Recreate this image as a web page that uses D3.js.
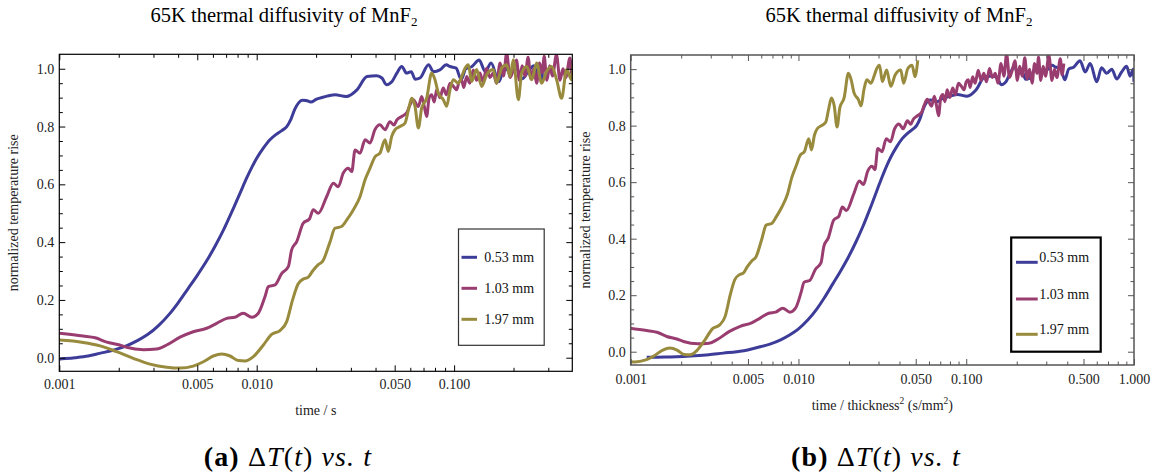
<!DOCTYPE html>
<html>
<head>
<meta charset="utf-8">
<script src="https://cdnjs.cloudflare.com/ajax/libs/d3/7.8.5/d3.min.js"></script>
<style>
  body { margin: 0; background: #fff; }
  svg { font-family: 'Liberation Serif', 'Times New Roman', serif; }
</style>
</head>
<body>
<svg width="1159" height="475"></svg>
<script>
// sample thickness (mm), labels, colours
const thicknessMm = [0.53, 1.03, 1.97];
const seriesLabels = ['0.53 mm', '1.03 mm', '1.97 mm'];
const seriesColors = ['#3d3d99', '#993d71', '#998b3d'];

// [time (s), normalized temperature rise]
const rise053 = [
  [0.00035,-0.02],[0.00045,-0.019],[0.00064,-0.015],[0.00082,-0.011],[0.001,-0.005],
  [0.0012,0.0],[0.0014,0.006],[0.0016,0.015],[0.0019,0.027],[0.0022,0.042],[0.0025,0.06],
  [0.0028,0.08],[0.0032,0.113],[0.0036,0.15],[0.004,0.19],[0.0045,0.24],[0.005,0.285],
  [0.0056,0.337],[0.0062,0.39],[0.0068,0.443],[0.0076,0.515],[0.0083,0.575],[0.0089,0.622],
  [0.0095,0.662],[0.01,0.69],[0.0108,0.725],[0.0117,0.755],[0.0125,0.772],[0.0134,0.786],
  [0.0142,0.8],[0.0149,0.825],[0.0156,0.86],[0.0163,0.882],[0.017,0.891],[0.0178,0.89],
  [0.0188,0.885],[0.0201,0.895],[0.0218,0.902],[0.0249,0.91],[0.0284,0.904],[0.0322,0.927],
  [0.0362,0.973],[0.0405,0.976],[0.0431,0.968],[0.0454,0.945],[0.0485,0.956],[0.0513,0.985],
  [0.0543,1.008],[0.0574,0.985],[0.0607,0.99],[0.0634,0.964],[0.0672,0.968],[0.0742,1.014],
  [0.0786,0.99],[0.0847,0.996],[0.0914,1.014],[0.095,1.008],[0.1024,1.002],[0.1087,0.962],
  [0.1146,1.0],[0.1227,1.007],[0.134,1.03],[0.1437,0.99],[0.154,1.02],[0.1685,0.955],
  [0.18,1.005],[0.193,0.985],[0.207,1.0],[0.2216,0.965],[0.237,0.99],[0.254,1.01],
  [0.266,0.975],[0.278,1.0],[0.2809,0.955]
];

const rise103 = [
  [0.001,0.0845],[0.00132,0.075],[0.00152,0.069],[0.00174,0.054],[0.002,0.045],[0.00219,0.036],
  [0.00267,0.028],[0.00311,0.03],[0.0035,0.044],[0.00409,0.071],[0.00477,0.09],[0.00558,0.102],
  [0.00627,0.119],[0.00705,0.136],[0.00776,0.14],[0.00855,0.154],[0.00944,0.14],[0.01019,0.154],
  [0.01101,0.211],[0.01146,0.246],[0.01238,0.252],[0.0134,0.292],[0.01446,0.315],[0.01503,0.373],
  [0.01595,0.402],[0.01722,0.466],[0.0185,0.48],[0.01935,0.512],[0.0205,0.5],[0.02263,0.558],
  [0.02445,0.604],[0.0259,0.592],[0.02745,0.639],[0.0291,0.656],[0.0303,0.644],[0.0315,0.719],
  [0.0334,0.708],[0.0354,0.754],[0.0375,0.743],[0.0397,0.789],[0.0421,0.806],[0.0447,0.789],
  [0.0473,0.817],[0.0496,0.805],[0.0512,0.822],[0.0543,0.835],[0.0575,0.847],[0.0598,0.875],
  [0.0621,0.893],[0.0659,0.869],[0.0685,0.904],[0.0706,0.87],[0.0726,0.835],[0.0748,0.9],
  [0.077,0.91],[0.0793,0.885],[0.0816,0.927],[0.0848,0.9],[0.0881,0.933],[0.0915,0.91],
  [0.0953,0.95],[0.099,0.94],[0.103,0.927],[0.106,0.955],[0.109,0.962],[0.112,0.935],
  [0.1158,0.973],[0.12,0.95],[0.125,0.996],[0.13,0.96],[0.135,0.985],[0.14,0.955],[0.146,1.002],
  [0.152,0.97],[0.158,0.985],[0.164,0.95],[0.171,1.02],[0.178,0.975],[0.1846,1.054],[0.192,0.97],
  [0.1995,0.996],[0.207,1.03],[0.214,0.96],[0.221,1.01],[0.229,0.975],[0.237,1.04],[0.245,0.965],
  [0.253,1.0],[0.262,0.95],[0.271,1.02],[0.28,0.985],[0.286,1.043],[0.295,0.96],[0.305,1.01],
  [0.315,0.975],[0.33,1.049],[0.344,0.96],[0.356,1.0],[0.368,0.97],[0.386,1.037],[0.395,0.98],
  [0.405,1.02]
];

const rise197 = [
  [0.001,0.061],[0.00132,0.053],[0.00161,0.041],[0.00195,0.021],[0.00237,-0.002],[0.00288,-0.022],
  [0.0035,-0.033],[0.00409,-0.036],[0.00477,-0.029],[0.00537,-0.014],[0.00603,0.006],[0.00665,0.013],
  [0.00733,0.006],[0.00807,-0.01],[0.00873,-0.011],[0.00962,0.004],[0.01081,0.044],[0.0119,0.081],
  [0.01312,0.094],[0.01419,0.125],[0.0152,0.2],[0.0162,0.255],[0.0172,0.272],[0.0182,0.278],
  [0.0192,0.3],[0.0205,0.322],[0.0216,0.334],[0.0235,0.4],[0.0249,0.448],[0.0269,0.454],
  [0.0286,0.477],[0.0309,0.512],[0.0334,0.558],[0.0354,0.616],[0.0375,0.656],[0.0398,0.696],
  [0.0421,0.708],[0.0447,0.754],[0.0464,0.714],[0.0483,0.766],[0.0502,0.789],[0.0532,0.8],
  [0.0564,0.812],[0.0587,0.858],[0.061,0.898],[0.0634,0.87],[0.0659,0.795],[0.0685,0.864],
  [0.0726,0.898],[0.077,0.985],[0.08,0.962],[0.0832,0.916],[0.0882,0.893],[0.0917,0.87],
  [0.0953,0.927],[0.0991,0.962],[0.1051,0.95],[0.1092,0.973],[0.1136,1.002],[0.1181,1.014],
  [0.1227,0.956],[0.1301,0.997],[0.1379,0.939],[0.1462,0.979],[0.158,0.997],[0.1643,0.95],
  [0.1741,1.002],[0.1846,1.014],[0.192,0.973],[0.1996,1.031],[0.2116,0.893],[0.2199,0.985],
  [0.2332,1.008],[0.2472,0.962],[0.2619,1.02],[0.2777,0.95],[0.2944,0.991],[0.312,1.008],
  [0.3307,0.962],[0.3506,0.898],[0.3717,0.997],[0.394,0.962],[0.4017,1.02]
];

// last x shown for each series in panel (b), in s/mm^2
const panelBMaxX = [1.0, 0.41, 0.052];

const xTicksA = [0.001, 0.005, 0.01, 0.05, 0.1];
const xTicksB = [0.001, 0.005, 0.01, 0.05, 0.1, 0.5, 1];
const yTicks = [0, 0.2, 0.4, 0.6, 0.8, 1.0];
const yMinorTicks = [0.05, 0.1, 0.15, 0.25, 0.3, 0.35, 0.45, 0.5, 0.55, 0.65, 0.7, 0.75, 0.85, 0.9, 0.95];
const Y_DOMAIN = [-0.047, 1.05];

const PANELS = [
  {
    left: 59.3, right: 572.3, top: 54.3, bottom: 371.3,
    xDomain: [0.001, 0.397], xTicks: xTicksA, frame: '#000', frameWidth: 1.2,
    titleX: 284, tickPad: 7.5, xLabelY: 415, yLabelX: 18,
    xLabel: [['time / s', 0, 14]],
    legend: { x: 458.5, y: 229, w: 85.7, h: 116.3, lineX: 461.5, lineW: 15.5, textX: 484.3,
              rows: [257.3, 288.3, 319.3], border: 1.2, color: '#333', dy: '0.34em' },
    caption: { x: 288, tag: '(a)' }
  },
  {
    left: 630.7, right: 1134, top: 55, bottom: 365,
    xDomain: [0.001, 1], xTicks: xTicksB, frame: '#555', frameWidth: 1.5,
    titleX: 899, tickPad: 9.4, xLabelY: 410, yLabelX: 590,
    xLabel: [['time / thickness', 0, 14], ['2', -6, 9.5], [' (s/mm', 6, 14], ['2', -6, 9.5], [')', 6, 14]],
    legend: { x: 1011.2, y: 237.5, w: 89.5, h: 114.2, lineX: 1016, lineW: 21.7, textX: 1039.3,
              rows: [262.3, 299, 334.3], border: 2.2, color: '#000', dy: '0' },
    caption: { x: 876, tag: '(b)' }
  }
];

const logMinorTicks = function(domain, majors) {
  const out = [];
  for (let e = -3; e <= 0; e++) {
    for (let m = 1; m < 10; m++) {
      const v = m * Math.pow(10, e);
      const isMajor = majors.some(M => Math.abs(M - v) / v < 1e-6);
      if (!isMajor && v >= domain[0] * 0.999 && v <= domain[1] * 1.001) out.push(v);
    }
  }
  return out;
};

const drawPanel = function(svg, panel, series, idx) {
  const x = d3.scaleLog().domain(panel.xDomain).range([panel.left, panel.right]);
  const y = d3.scaleLinear().domain(Y_DOMAIN).range([panel.bottom, panel.top]);
  const g = svg.append('g').attr('class', 'panel');

  // title
  const title = g.append('text')
    .attr('x', panel.titleX).attr('y', 21.5)
    .attr('text-anchor', 'middle')
    .style('font-size', '20.5px')
    .text('65K thermal diffusivity of MnF');
  title.append('tspan').attr('dy', 4).style('font-size', '13px').text('2');

  // curves
  const clipId = 'clip' + idx;
  g.append('clipPath').attr('id', clipId)
    .append('rect')
    .attr('x', panel.left).attr('y', panel.top)
    .attr('width', panel.right - panel.left).attr('height', panel.bottom - panel.top);

  const line = d3.line()
    .x(d => x(d[0]))
    .y(d => y(d[1]))
    .curve(d3.curveMonotoneX);

  g.append('g').attr('clip-path', `url(#${clipId})`)
    .selectAll('path')
    .data(series)
    .join('path')
    .attr('d', d => line(d))
    .attr('fill', 'none')
    .attr('stroke', (d, i) => seriesColors[i])
    .attr('stroke-width', 3)
    .attr('stroke-linejoin', 'round');

  // frame + inward ticks
  const minorX = logMinorTicks(panel.xDomain, panel.xTicks);
  const tickStyle = sel => {
    sel.select('.domain').remove();
    sel.selectAll('line').attr('stroke', panel.frame).attr('stroke-width', 1);
    sel.selectAll('text').style('font-size', '14px').attr('fill', '#222')
      .style('font-family', "'Liberation Serif', serif");
  };

  g.append('g').attr('transform', `translate(0,${panel.bottom})`)
    .call(d3.axisBottom(x).tickValues(panel.xTicks).tickFormat(d3.format('.3f'))
      .tickSize(-6).tickPadding(panel.tickPad))
    .call(tickStyle);
  g.append('g').attr('transform', `translate(0,${panel.bottom})`)
    .call(d3.axisBottom(x).tickValues(minorX).tickFormat('').tickSize(-3.5))
    .call(tickStyle);
  g.append('g').attr('transform', `translate(0,${panel.top})`)
    .call(d3.axisTop(x).tickValues(panel.xTicks).tickFormat('').tickSize(-6))
    .call(tickStyle);
  g.append('g').attr('transform', `translate(0,${panel.top})`)
    .call(d3.axisTop(x).tickValues(minorX).tickFormat('').tickSize(-3.5))
    .call(tickStyle);

  g.append('g').attr('transform', `translate(${panel.left},0)`)
    .call(d3.axisLeft(y).tickValues(yTicks).tickFormat(d3.format('.1f'))
      .tickSize(-6).tickPadding(5))
    .call(tickStyle);
  g.append('g').attr('transform', `translate(${panel.left},0)`)
    .call(d3.axisLeft(y).tickValues(yMinorTicks).tickFormat('').tickSize(-3.5))
    .call(tickStyle);
  g.append('g').attr('transform', `translate(${panel.right},0)`)
    .call(d3.axisRight(y).tickValues(yTicks).tickFormat('').tickSize(-6))
    .call(tickStyle);
  g.append('g').attr('transform', `translate(${panel.right},0)`)
    .call(d3.axisRight(y).tickValues(yMinorTicks).tickFormat('').tickSize(-3.5))
    .call(tickStyle);

  g.append('rect')
    .attr('x', panel.left).attr('y', panel.top)
    .attr('width', panel.right - panel.left).attr('height', panel.bottom - panel.top)
    .attr('fill', 'none').attr('stroke', panel.frame).attr('stroke-width', panel.frameWidth);

  // axis labels
  const xl = g.append('text')
    .attr('x', (panel.left + panel.right) / 2).attr('y', panel.xLabelY)
    .attr('text-anchor', 'middle').attr('fill', '#222');
  panel.xLabel.forEach(([t, dy, size]) => {
    xl.append('tspan').attr('dy', dy).style('font-size', size + 'px').text(t);
  });

  g.append('text')
    .attr('transform', `translate(${panel.yLabelX},${(panel.top + panel.bottom) / 2}) rotate(-90)`)
    .attr('text-anchor', 'middle').attr('fill', '#222')
    .style('font-size', '14px')
    .text('normalized temperature rise');

  // legend
  const lg = panel.legend;
  g.append('rect')
    .attr('x', lg.x).attr('y', lg.y).attr('width', lg.w).attr('height', lg.h)
    .attr('fill', '#fff').attr('stroke', lg.color).attr('stroke-width', lg.border);
  seriesLabels.forEach((label, i) => {
    g.append('line')
      .attr('x1', lg.lineX).attr('x2', lg.lineX + lg.lineW)
      .attr('y1', lg.rows[i]).attr('y2', lg.rows[i])
      .attr('stroke', seriesColors[i]).attr('stroke-width', 3);
    g.append('text')
      .attr('x', lg.textX).attr('y', lg.rows[i]).attr('dy', lg.dy)
      .style('font-size', '14px').attr('fill', '#111')
      .text(label);
  });

  // caption
  const cap = g.append('text')
    .attr('x', panel.caption.x).attr('y', 466)
    .attr('text-anchor', 'middle')
    .style('font-size', '28px')
    .style('letter-spacing', '1.1px');
  cap.append('tspan').style('font-weight', 'bold').text(panel.caption.tag + ' ');
  cap.append('tspan').text('\u0394');
  cap.append('tspan').style('font-style', 'italic').text('T');
  cap.append('tspan').text('(');
  cap.append('tspan').style('font-style', 'italic').text('t');
  cap.append('tspan').text(') ');
  cap.append('tspan').style('font-style', 'italic').text('vs. t');
};

const main = () => {
  const svg = d3.select('svg');
  const raw = [rise053, rise103, rise197];

  drawPanel(svg, PANELS[0], raw, 0);

  const scaled = raw.map((s, i) => {
    const d2 = thicknessMm[i] * thicknessMm[i];
    return s.map(d => [d[0] / d2, d[1]]).filter(d => d[0] <= panelBMaxX[i]);
  });
  drawPanel(svg, PANELS[1], scaled, 1);
};

main();
</script>
</body>
</html>
